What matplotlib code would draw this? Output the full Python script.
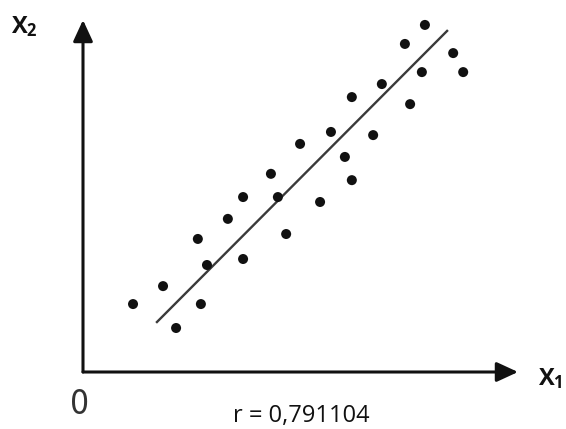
import matplotlib
matplotlib.use("Agg")
import matplotlib.pyplot as plt

plt.rcParams['mathtext.fontset'] = 'custom'
plt.rcParams['mathtext.bf'] = 'Open Sans:bold'
plt.rcParams['mathtext.rm'] = 'Open Sans'

# Data (arbitrary units, origin at 0,0)
x1 = [1.15, 1.84, 2.14, 2.71, 2.64, 2.85, 3.33, 3.68, 3.68, 4.32, 4.48, 4.67, 4.99,
      5.45, 5.70, 6.02, 6.18, 6.18, 6.67, 6.87, 7.52, 7.40, 7.79, 7.86, 8.51, 8.74]
x2 = [1.93, 2.44, 1.25, 1.93, 3.78, 3.04, 4.35, 4.97, 3.21, 5.63, 4.97, 3.92, 6.48,
      4.83, 6.82, 6.11, 5.45, 7.81, 6.73, 8.18, 7.61, 9.32, 8.52, 9.86, 9.06, 8.52]
line_x = [1.70, 8.37]
line_y = [1.42, 9.69]
r_label = "r = 0,791104"
x_label = r"$\mathbf{X_1}$"
y_label = r"$\mathbf{X_2}$"
origin_label = "0"

W, H = 566, 429
fig = plt.figure(figsize=(W / 100, H / 100), dpi=100)
ox, oy = 83, 372      # origin pixel
tx, ty = 518, 20      # arrow tips
ax = fig.add_axes([ox / W, (H - oy) / H, (tx - ox) / W, (oy - ty) / H])
ax.set_xlim(0, 10)
ax.set_ylim(0, 10)
ax.axis('off')

ax.scatter(x1, x2, s=52, color='#111111', zorder=3, edgecolors='none', clip_on=False)
ax.plot(line_x, line_y, color='#3a3a3a', lw=1.7, zorder=2)

arrow = dict(arrowstyle='-|>,head_length=0.65,head_width=0.3', lw=2.2,
             color='#111111', mutation_scale=20, shrinkA=0, shrinkB=0)
ax.annotate('', xy=(10, 0), xytext=(0, 0), arrowprops=arrow, annotation_clip=False)
ax.annotate('', xy=(0, 10), xytext=(0, 0), arrowprops=arrow, annotation_clip=False)

fig.text(550 / W, 1 - 379 / H, x_label, fontsize=17, ha='center', va='center', color='#111111')
fig.text(24 / W, 1 - 27 / H, y_label, fontsize=17, ha='center', va='center', color='#111111')
fig.text(80 / W, 1 - 414 / H, origin_label, fontsize=24, ha='center', va='baseline',
         color='#333333', family='DejaVu Sans', stretch='condensed')
fig.text(301 / W, 1 - 422 / H, r_label, fontsize=17, ha='center', va='baseline',
         color='#111111', family='Open Sans')

fig.savefig('out.png', dpi=100, facecolor='white')
